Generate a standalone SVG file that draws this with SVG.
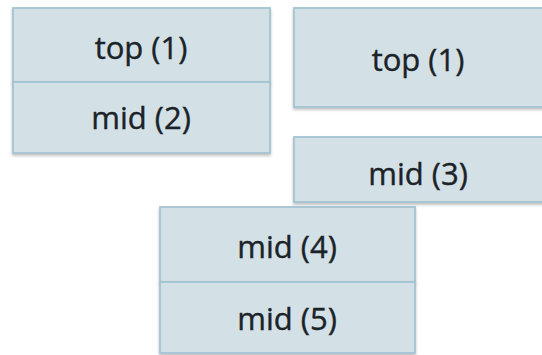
<svg xmlns="http://www.w3.org/2000/svg" width="542" height="355" viewBox="0 0 542 355">
  <defs>
    <filter id="shadow" x="-5%" y="-5%" width="110%" height="115%">
      <feGaussianBlur in="SourceAlpha" stdDeviation="1.5"/>
      <feOffset dx="0" dy="2" result="b"/>
      <feComponentTransfer><feFuncA type="linear" slope="0.25"/></feComponentTransfer>
      <feMerge><feMergeNode/><feMergeNode in="SourceGraphic"/></feMerge>
    </filter>
  </defs>
  <style>
    .box { fill: #d3e0e6; stroke: #a3c4d1; stroke-width: 1.8; filter: url(#shadow); }
    .label { font-family: "Open Sans", "Liberation Sans", sans-serif; font-size: 31px; fill: #1a2328; stroke: #1a2328; stroke-width: 0.4; text-anchor: middle; }
  </style>
  <rect width="542" height="355" fill="#ffffff"/>

  <g id="stack-a-top">
    <rect class="box" x="13" y="8" width="257" height="74"/>
    <text class="label" x="141" y="59">top (1)</text>
  </g>
  <g id="stack-a-mid">
    <rect class="box" x="13" y="82" width="257" height="71"/>
    <text class="label" x="141" y="129">mid (2)</text>
  </g>

  <g id="stack-b-top">
    <rect class="box" x="294" y="8" width="260" height="99"/>
    <text class="label" x="418" y="71">top (1)</text>
  </g>
  <g id="stack-b-mid">
    <rect class="box" x="294" y="137" width="260" height="65"/>
    <text class="label" x="418" y="185">mid (3)</text>
  </g>

  <g id="stack-c-mid4">
    <rect class="box" x="160" y="207" width="255" height="75"/>
    <text class="label" x="287" y="258">mid (4)</text>
  </g>
  <g id="stack-c-mid5">
    <rect class="box" x="160" y="282" width="255" height="71"/>
    <text class="label" x="287" y="330">mid (5)</text>
  </g>

  <g id="connectors"></g>
</svg>
